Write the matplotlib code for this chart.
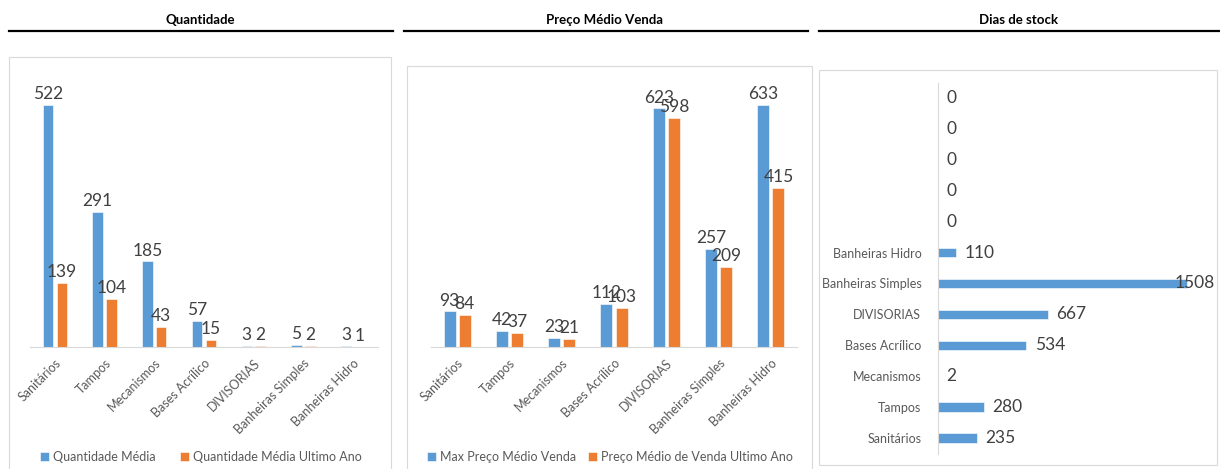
import numpy as np
import matplotlib
matplotlib.use("Agg")
import matplotlib.pyplot as plt
from matplotlib.patches import Rectangle
from matplotlib.lines import Line2D

plt.rcParams['font.family'] = ['Lato', 'DejaVu Sans']

# data
categorias = ["Sanitários", "Tampos", "Mecanismos", "Bases Acrílico",
              "DIVISORIAS", "Banheiras Simples", "Banheiras Hidro"]
qtd_media = [522, 291, 185, 57, 3, 5, 3]
qtd_ultimo_ano = [139, 104, 43, 15, 2, 2, 1]
preco_max = [93, 42, 23, 112, 623, 257, 633]
preco_ultimo_ano = [84, 37, 21, 103, 598, 209, 415]
stock_categorias = categorias + ["", "", "", "", ""]
dias_stock = [235, 280, 2, 534, 667, 1508, 110, 0, 0, 0, 0, 0]

AZUL = "#5B9BD5"
LARANJA = "#ED7D31"
CINZA = "#D9D9D9"
TXT = "#404040"
TICK = "#595959"

W, H = 1220, 469
fig = plt.figure(figsize=(W / 100, H / 100), dpi=100)


def px(x0, y0, x1, y1):
    # pixel box (top-left origin) -> figure fraction [l, b, w, h]
    return [x0 / W, 1 - y1 / H, (x1 - x0) / W, (y1 - y0) / H]


def cabecalho(titulo, xc, x0, x1):
    fig.text(xc / W, 1 - 20 / H, titulo, ha="center", va="center",
             fontsize=9.5, fontweight="bold", color="black")
    fig.add_artist(Line2D([x0 / W, x1 / W], [1 - 31 / H] * 2,
                          color="black", lw=1.6))


def caixa(x0, y0, x1, y1):
    l, b, w, h = px(x0, y0, x1, y1)
    fig.add_artist(Rectangle((l, b), w, h, transform=fig.transFigure,
                             fill=False, edgecolor=CINZA, lw=0.8))


def colunas(ax, s1, s2, ymax, off, width, nomes):
    x = np.arange(len(categorias))
    b1 = ax.bar(x - off, s1, width, color=AZUL, edgecolor="white", lw=0.4, label=nomes[0])
    b2 = ax.bar(x + off, s2, width, color=LARANJA, edgecolor="white", lw=0.4, label=nomes[1])
    for bars in (b1, b2):
        ax.bar_label(bars, padding=2, fontsize=12.5, color=TXT)
    ax.set_ylim(0, ymax)
    ax.set_xlim(-0.5, len(categorias) - 0.5)
    ax.set_yticks([])
    ax.set_xticks(x)
    ax.set_xticklabels(categorias, rotation=45, ha="right", rotation_mode="anchor",
                       fontsize=9, color=TICK)
    ax.tick_params(axis="x", length=0, pad=7)
    for s in ("top", "right", "left"):
        ax.spines[s].set_visible(False)
    ax.spines["bottom"].set_color(CINZA)
    ax.patch.set_alpha(0)


# Quantidade
cabecalho("Quantidade", 200, 9, 393)
caixa(9, 57, 391, 475)
ax1 = fig.add_axes(px(30, 69, 378, 347))
colunas(ax1, qtd_media, qtd_ultimo_ano, 600, 0.14, 0.21,
        ["Quantidade Média", "Quantidade Média Ultimo Ano"])
ax1.legend(loc="center", bbox_to_anchor=(201 / W, 1 - 457 / H), bbox_transform=fig.transFigure,
           ncol=2, frameon=False, fontsize=9, handlelength=0.7, handleheight=0.7,
           handletextpad=0.3, columnspacing=2.0, labelcolor=TICK)

# Preço Médio Venda
cabecalho("Preço Médio Venda", 605, 404, 808)
caixa(407, 66, 812, 475)
ax2 = fig.add_axes(px(431, 79, 797, 347))
colunas(ax2, preco_max, preco_ultimo_ano, 700, 0.145, 0.23,
        ["Max Preço Médio Venda", "Preço Médio de Venda Ultimo Ano"])
ax2.legend(loc="center", bbox_to_anchor=(610 / W, 1 - 457 / H), bbox_transform=fig.transFigure,
           ncol=2, frameon=False, fontsize=9, handlelength=0.7, handleheight=0.7,
           handletextpad=0.3, columnspacing=1.0, labelcolor=TICK)

# Dias de stock
cabecalho("Dias de stock", 1019, 819, 1220)
caixa(819, 70, 1217, 465)
ax3 = fig.add_axes(px(938, 82.5, 1215, 453.5))
xmax3 = 1677
y = np.arange(len(dias_stock))
bars3 = ax3.barh(y, dias_stock, height=0.3, color=AZUL, edgecolor="white", lw=0.4)
ax3.set_xlim(0, xmax3)
ax3.set_ylim(-0.5, len(dias_stock) - 0.5)
for yi, v in zip(y, dias_stock):
    if v > 0.85 * xmax3:
        ax3.text(xmax3, yi, str(v), ha="right", va="center", fontsize=12.5, color=TXT)
    else:
        ax3.annotate(str(v), (v, yi), xytext=(6, 0), textcoords="offset points",
                     ha="left", va="center", fontsize=12.5, color=TXT)
ax3.set_xticks([])
ax3.set_yticks(y)
ax3.set_yticklabels(stock_categorias, fontsize=9, color=TICK)
ax3.tick_params(axis="y", length=0, pad=12)
for s in ("top", "right", "bottom"):
    ax3.spines[s].set_visible(False)
ax3.spines["left"].set_color(CINZA)
ax3.patch.set_alpha(0)

fig.savefig("out.png", dpi=100, facecolor="white")
